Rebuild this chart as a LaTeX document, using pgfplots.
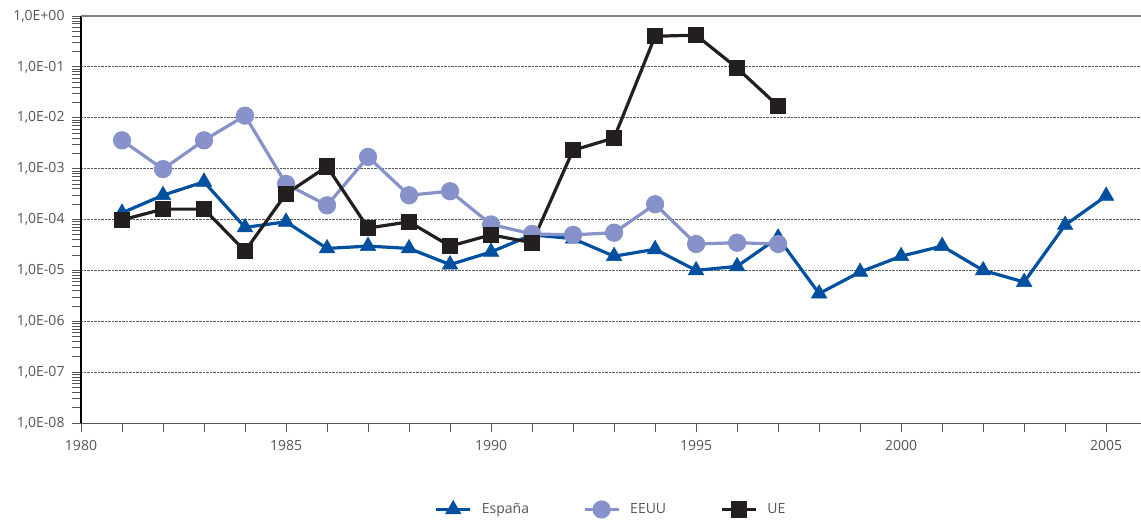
\documentclass[border=0pt]{standalone}
\usepackage{fontspec}
\setmainfont{Open Sans}
\usepackage{pgfplots}
\pgfplotsset{compat=1.18}
\definecolor{esp}{RGB}{0,80,160}
\definecolor{eeuu}{RGB}{135,145,202}
\definecolor{ue}{RGB}{35,31,32}
\definecolor{txt}{RGB}{85,85,85}
\begin{document}
\begin{tikzpicture}
\begin{axis}[
  name=ax,
  scale only axis,
  width=1060pt, height=407pt,
  xmin=1980, xmax=2005.85,
  ymode=log, ymin=1e-8, ymax=1,
  axis x line*=bottom, axis y line*=left,
  x axis line style={-, draw=txt, line width=1pt},
  y axis line style={-, draw=black, line width=1.3pt},
  xtick={1980,1985,...,2005},
  minor xtick={1981,...,2006},
  xticklabel style={/pgf/number format/1000 sep={}},
  ytick={1e-8,1e-7,1e-6,1e-5,1e-4,1e-3,1e-2,1e-1,1},
  yticklabels={{1,0E-08},{1,0E-07},{1,0E-06},{1,0E-05},{1,0E-04},{1,0E-03},{1,0E-02},{1,0E-01},{1,0E+00}},
  minor ytick={},
  tick align=outside,
  major tick length=9pt, minor tick length=9pt,
  every tick/.style={draw=txt, line width=0.8pt},
  ymajorgrids,
  major grid style={densely dotted, draw=black!65, line width=0.8pt},
  tick label style={font=\fontsize{14}{16}\selectfont, text=txt},
  /pgf/number format/assume math mode=true,
  yticklabel style={xshift=-4pt},
  xticklabel style={yshift=-5pt},
  clip=false,
  legend columns=3,
  legend style={draw=none, at={(0.5,-0.211)}, anchor=center, font=\fontsize{14}{16}\selectfont, text=txt,
     /tikz/every odd column/.append style={column sep=8pt},
     /tikz/every even column/.append style={column sep=52pt}},
  legend image code/.code={\draw[mark repeat=2,mark phase=2,#1] plot coordinates {(0pt,0pt) (17pt,0pt) (34pt,0pt)};},
]
\draw[draw=gray, line width=1.2pt] (rel axis cs:0,1) -- (rel axis cs:1,1);
\addplot[color=esp, line width=3.2pt, mark=triangle*, mark size=9pt, mark options={solid, line width=0.5pt}] coordinates {
(1981,1.35e-4) (1982,3.0e-4) (1983,5.5e-4) (1984,7e-5) (1985,9e-5) (1986,2.7e-5) (1987,3e-5)
(1988,2.7e-5) (1989,1.3e-5) (1990,2.3e-5) (1991,5e-5) (1992,4.2e-5) (1993,1.9e-5) (1994,2.6e-5)
(1995,1.0e-5) (1996,1.2e-5) (1997,4.4e-5) (1998,3.5e-6) (1999,9.3e-6) (2000,1.9e-5) (2001,3e-5)
(2002,1.0e-5) (2003,5.9e-6) (2004,7.8e-5) (2005,2.9e-4)};
\addlegendentry{España}
\addplot[color=eeuu, line width=3.2pt, mark=*, mark size=7.5pt, mark options={solid}] coordinates {
(1981,3.6e-3) (1982,9.8e-4) (1983,3.6e-3) (1984,1.1e-2) (1985,5e-4) (1986,1.9e-4) (1987,1.7e-3)
(1988,3e-4) (1989,3.6e-4) (1990,8e-5) (1991,5.2e-5) (1992,5e-5) (1993,5.5e-5) (1994,2e-4)
(1995,3.3e-5) (1996,3.5e-5) (1997,3.3e-5)};
\addlegendentry{EEUU}
\addplot[color=ue, line width=3.2pt, mark=square*, mark size=6.5pt, mark options={solid}] coordinates {
(1981,9.8e-5) (1982,1.6e-4) (1983,1.6e-4) (1984,2.4e-5) (1985,3.2e-4) (1986,1.1e-3) (1987,6.8e-5)
(1988,9e-5) (1989,3e-5) (1990,5e-5) (1991,3.5e-5) (1992,2.3e-3) (1993,4e-3) (1994,0.40)
(1995,0.42) (1996,9.5e-2) (1997,1.7e-2)};
\addlegendentry{UE}
\end{axis}
\pgfresetboundingbox
\path ([xshift=-81pt,yshift=-96pt]ax.south west) rectangle ([yshift=16pt]ax.north east);
\end{tikzpicture}
\end{document}
